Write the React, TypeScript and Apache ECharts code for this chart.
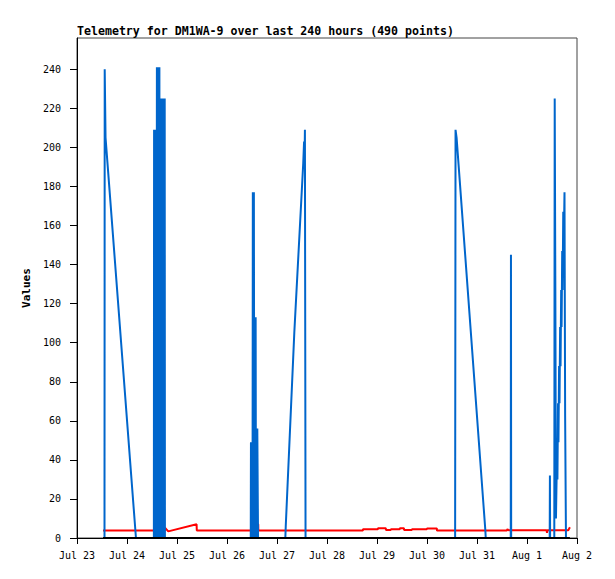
import React, { useEffect, useRef } from "react";
import * as echarts from "echarts";

const titleText = "Telemetry for DM1WA-9 over last 240 hours (490 points)";
const yAxisName = "Values";

// x axis: hours since Jul 23 00:00
const hourTicks = [0, 24, 48, 72, 96, 120, 144, 168, 192, 216, 240];
const dayLabels = ["Jul 23", "Jul 24", "Jul 25", "Jul 26", "Jul 27", "Jul 28", "Jul 29", "Jul 30", "Jul 31", "Aug 1", "Aug 2"];
const valueTicks = [0, 20, 40, 60, 80, 100, 120, 140, 160, 180, 200, 220, 240];

// blue series: [hour, value]
const blueBurst1: [number, number][] = [
  [13.2, 0], [13.3, 240], [13.7, 205], [28.3, 0],
];
const blueBurst2: [number, number][] = [
  [36.9, 0], [37.0, 209], [37.2, 0], [37.4, 209], [37.6, 0], [37.75, 209], [37.85, 0],
  [38.0, 177], [38.15, 0], [38.35, 241], [38.55, 0], [38.75, 241], [38.95, 0], [39.15, 241],
  [39.35, 0], [39.55, 241], [39.7, 0], [39.85, 225], [40.05, 0], [40.25, 225], [40.45, 0],
  [40.65, 225], [40.85, 0], [41.05, 225], [41.25, 0], [41.45, 225], [41.65, 0], [41.85, 225],
  [42.0, 0], [42.1, 225], [42.2, 0],
];
const blueBurst3: [number, number][] = [
  [83.4, 0], [83.5, 49], [83.75, 0], [84.0, 49], [84.25, 0], [84.4, 177], [84.65, 0],
  [84.9, 177], [85.1, 0], [85.25, 113], [85.5, 0], [85.75, 113], [85.9, 0], [86.05, 56],
  [86.3, 0], [86.55, 56], [86.8, 56], [86.9, 0],
];
const blueRamp: [number, number][] = [
  [100.0, 0], [100.2, 6], [104.3, 105], [108.6, 192], [109.0, 203], [109.2, 192], [109.4, 209], [109.7, 0],
];
const blueDecay: [number, number][] = [
  [181.5, 0], [181.7, 209], [182.2, 205], [196.0, 4], [196.2, 0],
];
const blueSpikes: [number, number][] = [
  [208.2, 0], [208.3, 145], [208.4, 0],
  [226.9, 0], [227.0, 32], [227.1, 0],
  [229.1, 0], [229.3, 225], [229.6, 128], [229.9, 10], [230.2, 30], [230.4, 49], [230.6, 30],
  [230.9, 69], [231.1, 49], [231.4, 88], [231.6, 69], [231.9, 108], [232.1, 88], [232.4, 127],
  [232.6, 108], [232.9, 147], [233.1, 127], [233.4, 167], [233.6, 147], [234.0, 177],
  [234.3, 63], [234.7, 0],
];

// red series: [hour, value]
const redSeries: [number, number][] = [
  [12.5, 3.8], [42.1, 3.8], [42.2, 5.3], [43.8, 3.4], [57.4, 7.0], [57.5, 3.8],
  [83.5, 3.8], [83.6, 7.0], [87.0, 7.0], [87.05, 3.8],
  [137.2, 3.8], [137.3, 4.5], [144.4, 4.5], [144.5, 5.0], [148.2, 5.0], [148.3, 4.1],
  [150.6, 4.1], [150.7, 4.5], [154.9, 4.5], [155.0, 5.0], [156.9, 5.0], [157.0, 4.1],
  [160.7, 4.1], [160.8, 4.5], [167.9, 4.5], [168.0, 4.9], [172.7, 4.9], [172.8, 3.8],
  [206.3, 3.8], [206.6, 4.5], [207.2, 4.0], [225.4, 4.0], [225.6, 2.7], [225.8, 4.0],
  [235.8, 4.0], [236.6, 5.5],
];

// black series: [hour, value]
const blackSeries: [number, number][] = [[12.5, 0], [236.6, 0]];

const FONT = "DejaVu Sans Mono";

export default function App() {
  const ref = useRef<HTMLDivElement>(null);
  useEffect(() => {
    if (!ref.current) return;
    const chart = echarts.init(ref.current, null, { renderer: "svg" });
    const blue = [...blueBurst1, ...blueBurst2, ...blueBurst3, ...blueRamp, ...blueDecay, ...blueSpikes];
    chart.setOption({
      animation: false,
      backgroundColor: "#ffffff",
      title: {
        text: titleText,
        left: 77,
        top: 24,
        padding: 0,
        textStyle: { fontFamily: FONT, fontWeight: "bold", fontSize: 11.6, color: "#000", lineHeight: 14 },
      },
      grid: {
        left: 77, right: 38, top: 38, bottom: 41,
        show: true, borderColor: "#444", borderWidth: 1, backgroundColor: "transparent",
      },
      xAxis: {
        type: "value",
        min: 0,
        max: 240,
        interval: 24,
        splitLine: { show: false },
        axisLine: { show: true, lineStyle: { color: "#000", width: 1 } },
        axisTick: { show: true, length: 6, lineStyle: { color: "#000" }, customValues: hourTicks },
        axisLabel: {
          customValues: hourTicks,
          margin: 12,
          fontFamily: FONT,
          fontSize: 10,
          color: "#000",
          formatter: (v: number) => dayLabels[Math.round(v / 24)] ?? "",
        },
      },
      yAxis: {
        type: "value",
        min: 0,
        max: 256,
        name: yAxisName,
        nameLocation: "middle",
        nameGap: 39,
        nameTextStyle: { fontFamily: FONT, fontWeight: "bold", fontSize: 11, color: "#000" },
        splitLine: { show: false },
        axisLine: { show: true, lineStyle: { color: "#000", width: 1 } },
        axisTick: { show: true, length: 7, lineStyle: { color: "#000" }, customValues: valueTicks },
        axisLabel: { customValues: valueTicks, margin: 16, fontFamily: FONT, fontSize: 10, color: "#000" },
      },
      series: [
        {
          type: "line", data: redSeries, showSymbol: false, silent: true, z: 2,
          lineStyle: { color: "#ff0000", width: 2 }, itemStyle: { color: "#ff0000" },
        },
        {
          type: "line", data: blue, showSymbol: false, silent: true, z: 3,
          lineStyle: { color: "#0066cc", width: 2 }, itemStyle: { color: "#0066cc" },
        },
        {
          type: "line", data: blackSeries, showSymbol: false, silent: true, z: 4,
          lineStyle: { color: "#000000", width: 2 }, itemStyle: { color: "#000" },
        },
      ],
    });
    return () => chart.dispose();
  }, []);
  return <div ref={ref} style={{ position: "absolute", left: 0, top: 0, width: 615, height: 579 }} />;
}
